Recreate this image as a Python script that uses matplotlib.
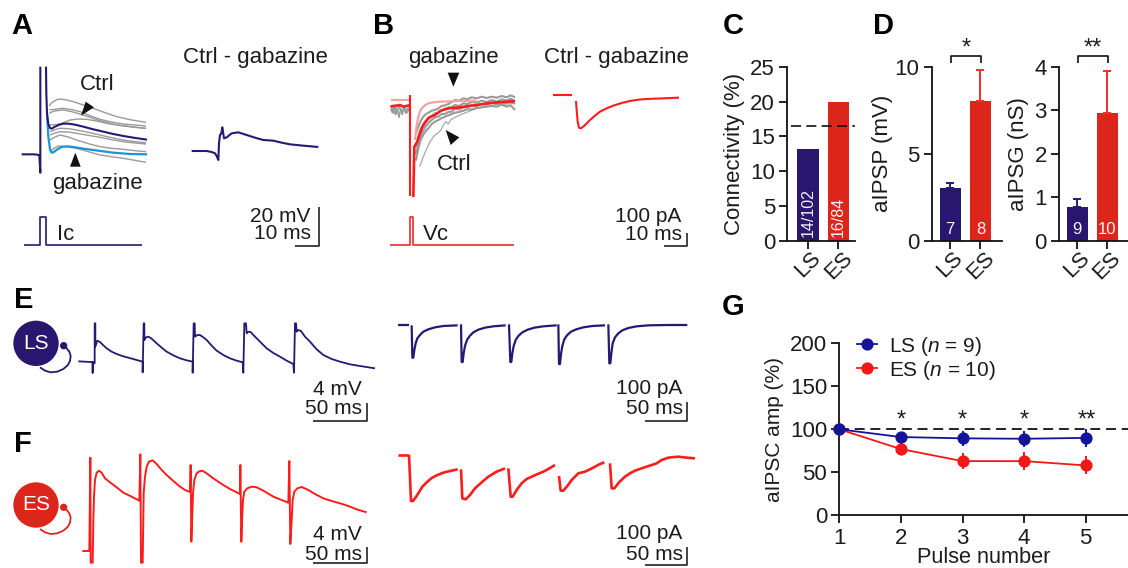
import matplotlib
matplotlib.use("Agg")
import matplotlib.pyplot as plt
from matplotlib.lines import Line2D
from matplotlib.patches import Polygon, Circle

plt.rcParams['font.family'] = ['Liberation Sans', 'DejaVu Sans']
plt.rcParams['mathtext.fontset'] = 'custom'
plt.rcParams['mathtext.it'] = 'Liberation Sans:italic'
plt.rcParams['mathtext.rm'] = 'Liberation Sans'

W, H = 1128, 568
NAVY, RED, BLUE, PINK = '#241a72', '#fb1c1c', '#1c95d4', '#efa3a5'
BAR_NAVY, BAR_RED = '#28166f', '#dc261c'
G_NAVY, G_RED = '#14149a', '#f21818'
INK = '#1c1c1c'

# ---------- summary data ----------
groups = ['LS', 'ES']
connectivity = [13.2, 19.9]
conn_counts = ['14/102', '16/84']
conn_overall = 16.5
aipsp = [3.05, 8.05]
aipsp_err = [0.3, 1.78]
aipsp_n = ['7', '8']
aipsg = [0.78, 2.93]
aipsg_err = [0.19, 0.97]
aipsg_n = ['9', '10']
pulses = [1, 2, 3, 4, 5]
ls_amp = [100, 91, 89.5, 89, 90]
ls_err = [0, 6, 9, 9, 10]
es_amp = [100, 77, 63, 63, 58]
es_err = [0, 7, 9.5, 10.5, 10.5]

# ---------- traces: samples (image units, 3x) ----------
a_gray = [
    ([148,153,160,170,180,195,220,250,280,315,350,395,438], [318,310,305,299,297,299,305,315,325,338,350,360,367]),
    ([148,155,165,178,190,215,240,270,300,335,370,405,438], [330,329,328,326,325,329,335,347,358,366,372,375,378]),
    ([148,155,165,178,190,215,240,270,300,335,370,405,438], [340,336,333,331,330,335,342,352,362,371,378,382,385]),
    ([150,165,180,195,210,235,260,290,320,350,380,410,438], [375,374,372,366,360,357,358,363,370,375,378,382,385]),
    ([150,165,180,205,230,265,300,335,370,405,438], [395,389,385,386,390,397,405,413,420,425,428]),
    ([150,165,180,205,230,265,300,335,370,405,438], [405,399,395,396,400,406,412,419,425,429,432]),
    ([150,165,180,205,230,265,300,335,370,405,438], [420,411,405,411,420,431,440,445,448,452,455]),
    ([150,162,175,200,230,265,300,335,370,405,438], [455,445,438,440,445,455,465,470,475,481,487]),
]
a_spike_x = [65,100,112,118,121,121]
a_spike_y = [463,463,464,466,518,200]
a_ctrl_x = [138,139,141,145,150,155,165,178,190,205,225,250,280,310,340,370,400,441]
a_ctrl_y = [200,280,340,372,384,386,380,374,371,371,374,380,388,395,402,408,413,419]
a_gaba_x = [141,145,150,155,162,172,185,200,220,250,280,310,340,390,441]
a_gaba_y = [340,410,448,458,456,448,441,439,441,446,450,454,458,462,463]
a_diff_x = [575,600,620,635,645,650,655,657,660,664,667,672,680,695,715,740,765,790,820,845,870,910,955]
a_diff_y = [453,453,453,456,460,468,480,430,405,400,382,415,412,400,397,405,413,420,422,428,433,437,441]
ic_x = [72,121,121,138,138,425]
ic_y = [736,736,651,651,736,736]

b_gray_base_x = [92,97,102,107,112,117,122,127,132,137,142,148]
b_gray_base = [
    [326,338,322,344,330,352,326,336,322,340,326,330],
    [316,328,340,322,334,318,330,344,320,330,338,322],
]
b_gray_thin_x = [178,183,190,200,210,222,235,243,250,258,265,272,285,300,325,350,400,465]
b_gray_thin_y = [500,490,470,447,425,408,398,390,375,365,372,360,352,345,335,325,315,310]
b_band_x = [168,175,182,190,198,206,215,225,235,245,255,265,275,285,297,310,322,335,350,365,380,395,410,425,440,452,465]
b_band = [
    [400,380,362,350,342,338,332,330,325,318,316,312,306,300,302,295,298,292,295,290,294,290,293,288,292,286,292],
    [440,410,388,372,362,352,348,340,338,330,330,322,322,315,318,310,312,306,308,302,306,300,305,298,302,296,304],
    [462,430,408,390,378,368,360,352,350,342,342,336,335,326,328,322,322,316,318,312,314,308,312,306,310,304,312],
    [482,445,420,404,392,384,372,365,360,354,350,346,342,338,336,332,328,328,324,322,320,318,320,314,320,316,330],
]
b_gaba1_x = [92,150]
b_gaba1_y = [300,300]
b_gaba2_x = [165,170,175,180,185,195,205,220,240,300,350]
b_gaba2_y = [420,375,350,335,325,316,310,307,305,303,302]
b_ctrl1_x = [92,100,110,120,130,140,148]
b_ctrl1_y = [320,318,317,315,320,318,316]
b_stim_x = [150,150]
b_stim_y = [285,588]
b_ctrl2_x = [157,160,163,172,178,185,195,205,215,225,240,255,275,300,325,350,375,400,430,465]
b_ctrl2_y = [588,588,440,425,405,385,368,355,349,345,334,327,324,322,318,315,311,308,306,303]
b_diff = [
    ([578,636], [286,286]),
    ([648,650,653,657,663,672,690,705,720,740,760,785,810,835,860,910,957],
     [303,330,365,383,385,378,360,347,335,325,317,309,303,299,297,295,293]),
]
vc_x = [90,150,150,159,159,462]
vc_y = [736,736,652,652,736,736]

e_v_x = [235,272,278,278,278,284,284,286,286,292,300,310,320,335,350,370,385,410,428,428,431,433,433,438,445,455,470,485,500,520,540,560,578,578,581,584,585,592,600,610,620,635,650,670,690,710,728,730,733,738,740,745,752,760,770,785,800,820,840,860,880,882,885,888,890,895,903,915,930,950,970,995,1020,1050,1080,1125]
e_v_y = [244,246,246,278,246,250,130,130,200,182,186,196,205,215,222,229,233,240,245,277,130,130,180,172,170,176,190,203,215,226,235,241,245,278,130,130,170,165,165,172,180,197,212,225,235,242,247,278,130,130,160,155,156,165,175,190,205,219,230,242,252,278,130,130,155,150,153,170,185,208,225,237,245,253,258,265]
f_v_x = [247,268,271,272,278,280,282,285,290,297,305,315,330,350,370,395,418,421,423,428,431,435,440,447,458,470,485,500,520,540,555,570,572,574,577,579,583,590,598,607,620,640,665,690,720,721,724,727,729,733,742,755,770,790,820,845,865,868,871,875,878,883,892,905,925,945,970,995,1020,1045,1070,1100]
f_v_y = [813,813,533,848,848,720,650,600,578,572,578,595,607,622,638,650,662,523,848,848,640,590,560,545,541,552,570,585,603,620,630,636,555,785,700,640,600,580,574,572,580,595,612,627,642,555,785,700,660,635,625,620,622,632,650,660,668,543,792,720,660,635,625,621,630,642,655,663,670,678,688,697]
e_i = [
    ([38,72], [136,136]),
    ([80,82,85,88,92,97,105,115,130,150,175,218], [136,233,233,210,190,175,165,155,148,142,138,136]),
    ([228,230,233,236,240,246,254,265,280,300,325,362], [133,246,246,220,198,180,168,157,149,143,139,136]),
    ([372,376,379,382,386,392,400,412,428,448,475,515], [133,246,246,220,198,180,168,157,149,143,139,136]),
    ([520,522,525,528,532,538,546,558,574,595,622,660], [133,252,252,222,198,178,166,155,148,142,138,136]),
    ([670,673,676,679,683,690,700,712,730,755,790,850,907], [133,250,250,220,190,172,160,151,144,139,136,135,135]),
]
f_i = [
    ([38,70], [524,524]),
    ([72,78,84,92,100,112,125,140,155,175,195,218], [524,663,663,652,640,620,607,594,586,578,573,568]),
    ([228,232,242,255,270,290,310,335,360], [568,655,658,645,625,607,590,575,565]),
    ([370,377,383,395,410,425,440,458,475,492,510], [565,650,650,630,610,597,590,582,575,566,555]),
    ([522,527,535,547,560,580,600,615,630,645,658], [588,632,632,618,600,580,575,568,560,552,547]),
    ([675,680,688,703,720,735,750,770,785,800,815,830,850,880,905,930], [550,625,625,606,590,580,572,565,560,555,550,540,533,530,533,535]),
]
arc_x = [191,200,208,212,210,203,190,172,152,135,120]
arc_y = [197,205,215,228,243,256,267,275,277,272,262]

# ---------- figure ----------
fig = plt.figure(figsize=(W/100, H/100), dpi=100)
fig.patch.set_facecolor('white')
ov = fig.add_axes([0, 0, 1, 1], zorder=5)
ov.set_xlim(0, W); ov.set_ylim(H, 0); ov.axis('off'); ov.patch.set_alpha(0)


def pl(xs, ys, ox, oy, color, lw=1.4, z=2):
    ov.plot([ox + x/3 for x in xs], [oy + y/3 for y in ys], color=color, lw=lw, zorder=z,
            solid_joinstyle='round', solid_capstyle='butt')


def tx(x, y, s, ox=0, oy=0, size=16, ha='center', color=INK, **kw):
    ov.text(ox + x/3, oy + y/3, s, fontsize=size, ha=ha, va='center', color=color, zorder=6, **kw)


def tri(pts, ox):
    ov.add_patch(Polygon([(ox + x/3, y/3) for x, y in pts], closed=True, color='#111111', zorder=6, lw=0))


def axpx(l, t, r, b):
    a = fig.add_axes([l/W, 1 - b/H, (r - l)/W, (b - t)/H], zorder=3)
    a.patch.set_alpha(0)
    for s in ('top', 'right'):
        a.spines[s].set_visible(False)
    for s in ('left', 'bottom'):
        a.spines[s].set_linewidth(1.3)
        a.spines[s].set_color('#111111')
    a.tick_params(width=1.3, length=5.8, labelsize=16, color='#111111', labelcolor=INK, pad=3)
    return a


for s, x, y in [('A', 11, 26), ('B', 373, 26), ('C', 723, 26), ('D', 873, 26),
                ('E', 14, 300), ('F', 14, 444), ('G', 722, 307)]:
    ov.text(x, y, s, fontsize=21, fontweight='bold', color='black', ha='left', va='center')

# panel A
for xs, ys in a_gray:
    pl(xs, ys, 0, 0, '#9a9a9a', 1.0, 1)
pl(a_gaba_x, a_gaba_y, 0, 0, BLUE, 1.6, 2)
pl(a_spike_x, a_spike_y, 0, 0, NAVY, 1.5, 3)
pl(a_ctrl_x, a_ctrl_y, 0, 0, NAVY, 1.5, 3)
pl(a_diff_x, a_diff_y, 0, 0, NAVY, 1.5)
pl(ic_x, ic_y, 0, 0, NAVY, 1.2)
tri([(243,347), (257,305), (282,322)], 0)
tri([(226,458), (210,500), (242,500)], 0)
tx(293, 253, 'Ctrl')
tx(292, 549, 'gabazine')
tx(766, 172, 'Ctrl - gabazine')
tx(170, 705, 'Ic', ha='left')
tx(932, 648, '20 mV', ha='right', size=15)
tx(932, 701, '10 ms', ha='right', size=15)
pl([958,958,885], [622,737,737], 0, 0, '#222222', 1.2)

# panel B
for ys in b_gray_base:
    pl(b_gray_base_x, ys, 360, 0, '#9a9a9a', 1.1, 1)
pl(b_gray_thin_x, b_gray_thin_y, 360, 0, '#a8a8a8', 0.9, 1)
for ys in b_band:
    pl(b_band_x, ys, 360, 0, '#9a9a9a', 1.5, 1)
pl(b_gaba1_x, b_gaba1_y, 360, 0, PINK, 1.6, 2)
pl(b_gaba2_x, b_gaba2_y, 360, 0, PINK, 1.6, 2)
pl(b_ctrl1_x, b_ctrl1_y, 360, 0, '#e8262a', 2.0, 3)
pl(b_stim_x, b_stim_y, 360, 0, RED, 1.5, 3)
pl(b_ctrl2_x, b_ctrl2_y, 360, 0, RED, 1.9, 3)
for xs, ys in b_diff:
    pl(xs, ys, 360, 0, RED, 1.5)
pl(vc_x, vc_y, 360, 0, '#ec2b2b', 1.2)
tri([(280,260), (263,218), (298,218)], 360)
tri([(257,390), (298,412), (272,435)], 360)
tx(281, 172, 'gabazine', ox=360)
tx(282, 493, 'Ctrl', ox=360)
tx(768, 172, 'Ctrl - gabazine', ox=360)
tx(190, 705, 'Vc', ox=360, ha='left')
tx(965, 648, '100 pA', ox=360, ha='right', size=15)
tx(965, 703, '10 ms', ox=360, ha='right', size=15)
pl([982,982,913], [700,737,737], 360, 0, '#222222', 1.2)

# panels E, F
for cy, col, name, dy in [(190, BAR_NAVY, 'LS', 0), (675, BAR_RED, 'ES', 485)]:
    ov.add_patch(Circle((108/3, 280 + cy/3), 68/3, color=col, lw=0, zorder=2))
    ov.add_patch(Circle((191/3, 280 + (197 + dy)/3), 11/3, color=col, lw=0, zorder=2))
    pl(arc_x, [y + dy for y in arc_y], 0, 280, col, 1.3)
    tx(108, cy, name, oy=280, size=15, color='white')

pl(e_v_x, e_v_y, 0, 280, NAVY, 1.3)
pl(f_v_x, f_v_y, 0, 280, RED, 1.4)
for xs, ys in e_i:
    pl(xs, ys, 385, 280, NAVY, 1.6)
for xs, ys in f_i:
    pl(xs, ys, 385, 280, RED, 1.9)

tx(1085, 328, '4 mV', oy=280, ha='right', size=15)
tx(1085, 385, '50 ms', oy=280, ha='right', size=15)
pl([1100,1100,940], [368,423,423], 0, 280, '#222222', 1.2)
tx(1085, 765, '4 mV', oy=280, ha='right', size=15)
tx(1085, 825, '50 ms', oy=280, ha='right', size=15)
pl([1100,1100,940], [800,848,848], 0, 280, '#222222', 1.2)
tx(893, 325, '100 pA', ox=385, oy=280, ha='right', size=15)
tx(893, 385, '50 ms', ox=385, oy=280, ha='right', size=15)
pl([907,907,780], [365,423,423], 385, 280, '#222222', 1.2)
tx(893, 760, '100 pA', ox=385, oy=280, ha='right', size=15)
tx(893, 825, '50 ms', ox=385, oy=280, ha='right', size=15)
pl([907,907,780], [800,855,855], 385, 280, '#222222', 1.2)


def bars(a, vals, errs, labels, rot, size, ylab, yticks, labelpad=3):
    cols = [BAR_NAVY, BAR_RED]
    a.bar([0, 1], vals, width=0.7, color=cols)
    if errs:
        for i in range(2):
            a.errorbar(i, vals[i], yerr=[[0], [errs[i]]], color=[NAVY, '#ee2f2a'][i],
                       capsize=3.2, elinewidth=1.4, capthick=1.4, zorder=1)
    a.set_xticks([0, 1], groups, rotation=45, ha='center', va='top', fontsize=16)
    a.tick_params(axis='x', pad=-1)
    a.set_yticks(yticks)
    a.set_ylabel(ylab, fontsize=16, color=INK, labelpad=labelpad)
    for i, s in enumerate(labels):
        a.text(i, a.get_ylim()[1]*0.022, s, color='white', fontsize=size, rotation=rot,
               ha='center', va='bottom', alpha=0.95)


# panel C
c = axpx(787.3, 67, 855, 240.7)
c.set_xlim(-0.68, 1.55); c.set_ylim(0, 25)
bars(c, connectivity, None, conn_counts, 90, 11.5, 'Connectivity (%)', [0, 5, 10, 15, 20, 25], labelpad=4)
c.plot([-0.55, 1.55], [conn_overall]*2, color='#111111', lw=1.2, dashes=(6, 3.2), zorder=4)

# panel D
d1 = axpx(931.7, 67, 1001.7, 240.7)
d1.set_xlim(-0.61, 1.7); d1.set_ylim(0, 10)
bars(d1, aipsp, aipsp_err, aipsp_n, 0, 12, 'aIPSP (mV)', [0, 5, 10], labelpad=1)
d2 = axpx(1059, 67, 1128, 240.7)
d2.set_xlim(-0.6, 1.7); d2.set_ylim(0, 4)
bars(d2, aipsg, aipsg_err, aipsg_n, 0, 12, 'aIPSG (nS)', [0, 1, 2, 3, 4], labelpad=4)
pl([723,723,812,812], [188,167,167,188], 710, 0, '#111111', 1.2)
pl([1104,1104,1194,1194], [188,167,167,188], 710, 0, '#111111', 1.2)
tx(768, 146, '*', ox=710, size=17)
tx(1149, 146, '**', ox=710, size=17)

# panel G
g = axpx(839.3, 343.3, 1128, 515.3)
g.set_xlim(1, 1 + (1128 - 839.3)/61.6); g.set_ylim(0, 200)
g.axhline(100, color='#111111', lw=1.3, dashes=(5.5, 3.2), zorder=1)
g.errorbar(pulses, es_amp, yerr=es_err, color=G_RED, marker='o', ms=7.8, lw=1.3, elinewidth=1.4,
           clip_on=False, zorder=3)
g.errorbar(pulses, ls_amp, yerr=ls_err, color=G_NAVY, marker='o', ms=7.8, lw=1.3, elinewidth=1.4,
           clip_on=False, zorder=4)
g.set_xticks(pulses)
g.set_yticks([0, 50, 100, 150, 200])
g.tick_params(axis='x', pad=3)
g.set_xlabel('Pulse number', fontsize=15.7, color=INK, labelpad=-1)
g.set_ylabel('aIPSC amp (%)', fontsize=15, color=INK, labelpad=4)
for x, s in zip(pulses[1:], ['*', '*', '*', '**']):
    g.text(x + (0.02 if len(s) > 1 else 0), 110, s, fontsize=17, ha='center', va='center', color=INK)
h = [Line2D([], [], color=G_NAVY, marker='o', ms=7.8, lw=1.3), Line2D([], [], color=G_RED, marker='o', ms=7.8, lw=1.3)]
g.legend(h, ['LS ($\\mathit{n}$ = 9)', 'ES ($\\mathit{n}$ = 10)'], loc='upper left', bbox_to_anchor=(0.061, 1.05),
         frameon=False, fontsize=15, handlelength=0.95, handletextpad=0.6, labelspacing=0.05, borderpad=0,
         borderaxespad=0, labelcolor=INK)

fig.savefig('out.png', dpi=100)
